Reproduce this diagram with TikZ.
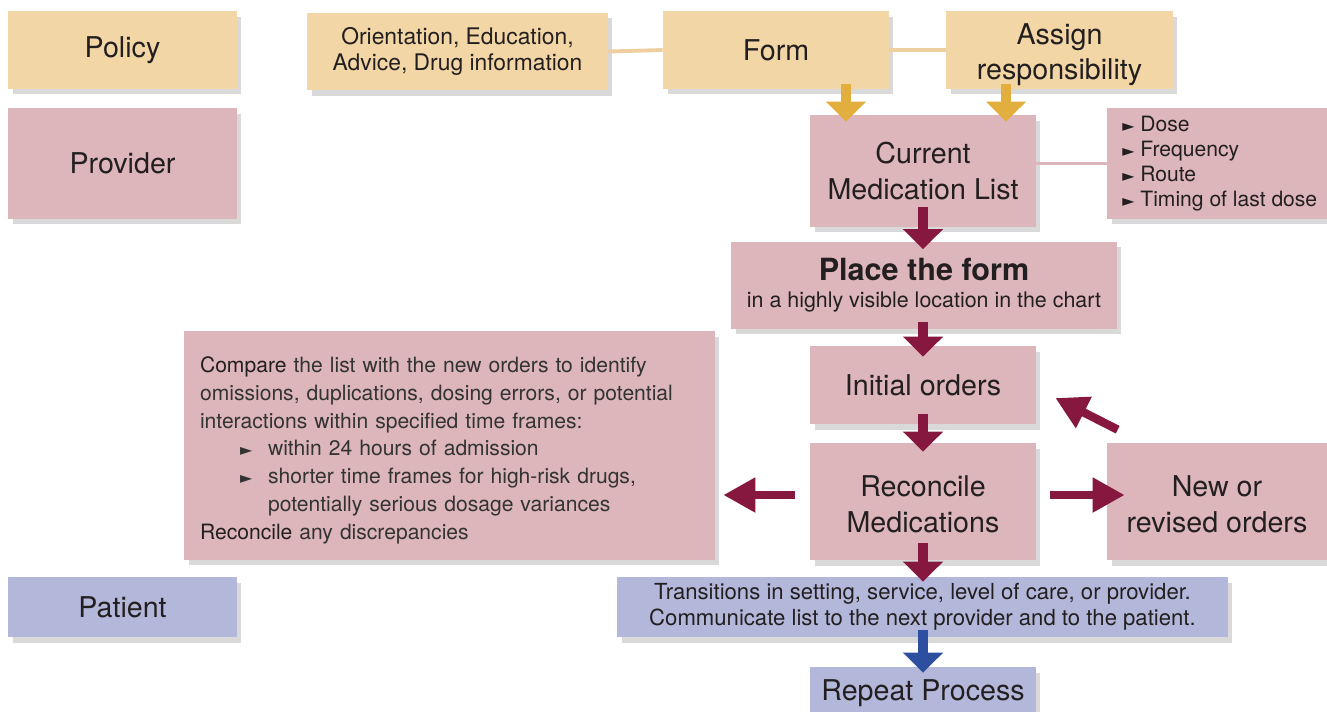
\documentclass[tikz,border=0pt]{standalone}
\usepackage{fontspec}
\setmainfont{TeX Gyre Heros}
\newfontfamily\symf{DejaVu Sans}
\usetikzlibrary{arrows.meta,shadows}
\definecolor{policytan}{HTML}{F2D6A6}
\definecolor{linetan}{HTML}{EFCF9F}
\definecolor{provpink}{HTML}{DCB6BB}
\definecolor{patblue}{HTML}{B3B7DA}
\definecolor{arrowred}{HTML}{861840}
\definecolor{arrowgold}{HTML}{E2AE3E}
\definecolor{arrowblue}{HTML}{2E4F9F}
\definecolor{txt}{HTML}{231F20}
\newcommand{\rbullet}{{\symf\fontsize{9}{9}\selectfont ►}}
\begin{document}
\begin{tikzpicture}[x=0.02cm, y=-0.02cm,
	box/.style={rectangle, inner sep=0pt, align=center, text=txt,
		drop shadow={shadow xshift=0.09cm, shadow yshift=-0.11cm, opacity=0.25, fill=black!60}},
	tanbox/.style={box, fill=policytan},
	pinkbox/.style={box, fill=provpink},
	bluebox/.style={box, fill=patblue},
	big/.style={font=\fontsize{16.3}{20}\selectfont},
	fat/.style={line width=5.8pt, -{Triangle[width=0.78cm,length=0.4cm]}},
	fatside/.style={line width=4.8pt, -{Triangle[width=0.66cm,length=0.64cm]}}]
		\useasboundingbox (0,0) rectangle (1327,711);
		% left column
		\node[tanbox, big, minimum width=4.58cm, minimum height=1.56cm] (policy) at (122.5,50) {Policy};
		\node[pinkbox, big, minimum width=4.58cm, minimum height=2.22cm] (provider) at (122.5,163.5) {Provider};
		\node[bluebox, big, minimum width=4.58cm, minimum height=1.2cm] (patient) at (122.5,607) {Patient};
		% top row
		\node[tanbox, font=\fontsize{13}{14.7}\selectfont, minimum width=6.02cm, minimum height=1.56cm] (orient) at (457.5,51.5) {Orientation, Education,\\Advice, Drug information};
		\node[tanbox, big, minimum width=4.52cm, minimum height=1.56cm] (form) at (776,50) {Form};
		\node[tanbox, big, minimum width=4.54cm, minimum height=1.56cm] (assign) at (1059.5,50) {\rule{0pt}{17pt}Assign\\responsibility};
		\draw[line width=2.2pt, linetan] (orient.east) -- (form.west);
		\draw[line width=2.2pt, linetan] (form.east) -- (assign.west);
		% main column
		\node[pinkbox, big, minimum width=4.52cm, minimum height=2.24cm] (curmed) at (923,171) {Current\\Medication List};
		\node[pinkbox, anchor=west, align=left, inner xsep=0.3cm, minimum width=4.4cm, minimum height=2.22cm, font=\fontsize{12}{14.2}\selectfont] (dose) at (1107,163.5) {\rbullet\ Dose\\\rbullet\ Frequency\\\rbullet\ Route\\\rbullet\ Timing of last dose};
		\draw[line width=2.2pt, provpink] (curmed.east |- dose.west) -- (dose.west);
		\node[pinkbox, minimum width=7.72cm, minimum height=1.74cm, font=\fontsize{12.2}{15.5}\selectfont] (place) at (924,285) {{\fontsize{17.4}{17.4}\selectfont\bfseries Place the form}\\in a highly visible location in the chart};
		\node[pinkbox, text=black!80, align=left, text width=9.98cm, inner xsep=0.32cm, minimum height=4.58cm, font=\fontsize{12}{15.8}\selectfont] (compare) at (449.5,445.5) {\rule{0pt}{14.4pt}\textcolor{txt}{Compare} the list with the new orders to identify\\
omissions, duplications, dosing errors, or potential\\
interactions within specified time frames:\\
\hspace*{0.8cm}\makebox[0.56cm][l]{\rbullet}within 24 hours of admission\\
\hspace*{0.8cm}\makebox[0.56cm][l]{\rbullet}shorter time frames for high-risk drugs,\\
\hspace*{1.36cm}potentially serious dosage variances\\
\textcolor{txt}{Reconcile} any discrepancies};
		\node[pinkbox, big, minimum width=4.52cm, minimum height=1.56cm] (initial) at (923,385) {Initial orders};
		\node[pinkbox, big, minimum width=4.52cm, minimum height=2.34cm] (reconcile) at (923,501.5) {\rule{0pt}{15pt}Reconcile\\Medications};
		\node[pinkbox, big, minimum width=4.4cm, minimum height=2.34cm] (newrev) at (1217,501.5) {\rule{0pt}{15pt}New or\\revised orders};
		\node[bluebox, minimum width=12.22cm, minimum height=1.2cm, font=\fontsize{12.6}{14.7}\selectfont] (trans) at (922.5,607) {Transitions in setting, service, level of care, or provider.\\Communicate list to the next provider and to the patient.};
		\node[bluebox, big, minimum width=4.52cm, minimum height=1.06cm] (again) at (923,693.5) {Repeat Process};
		% arrows
		\draw[fat, arrowgold] ([xshift=1.4cm, yshift=0.1cm]form.south) -- ([xshift=1.4cm, yshift=-0.14cm]form.south |- curmed.north);
		\draw[fat, arrowgold] ([xshift=-1.07cm, yshift=0.1cm]assign.south) -- ([xshift=-1.07cm, yshift=-0.14cm]assign.south |- curmed.north);
		\draw[fat, arrowred] ([yshift=0.4cm]curmed.south) -- ([yshift=-0.16cm]curmed.south |- place.north);
		\draw[fat, arrowred] ([yshift=0.14cm]place.south -| initial.north) -- ([yshift=-0.22cm]initial.north);
		\draw[fat, arrowred] ([yshift=0.2cm]initial.south) -- ([yshift=-0.18cm]reconcile.north);
		\draw[fat, arrowred] ([yshift=0.34cm]reconcile.south) -- ([yshift=-0.1cm]reconcile.south |- trans.north);
		\draw[fatside, arrowred] ([xshift=-0.3cm, yshift=0.13cm]reconcile.west) -- ([xshift=0.16cm, yshift=0.13cm]compare.east |- reconcile.west);
		\draw[fatside, arrowred] ([xshift=0.28cm, yshift=0.13cm]reconcile.east) -- ([xshift=0.36cm, yshift=0.13cm]newrev.west);
		\draw[fatside, arrowred] ([xshift=0.22cm, yshift=0.26cm]newrev.north west) -- ([xshift=0.38cm, yshift=-0.26cm]initial.east);
		\draw[fat, arrowblue] ([yshift=0.14cm]trans.south -| again.north) -- ([yshift=-0.12cm]again.north);
\end{tikzpicture}
\end{document}
